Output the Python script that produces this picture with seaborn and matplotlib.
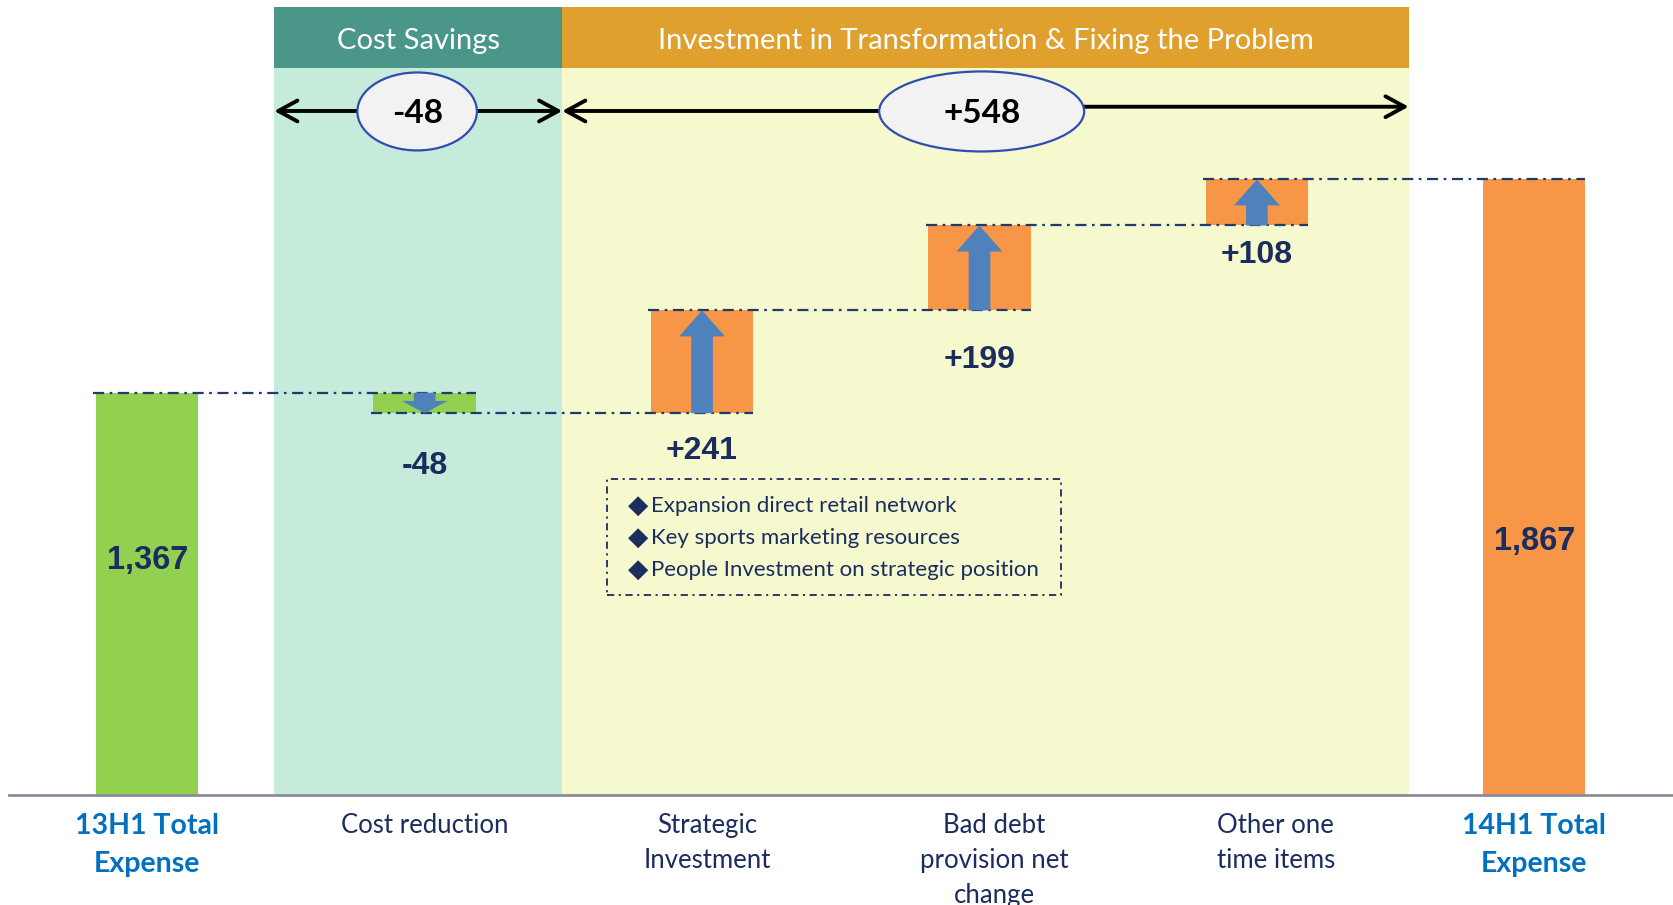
import matplotlib
matplotlib.use("Agg")
import matplotlib.pyplot as plt
from matplotlib.patches import Ellipse, Rectangle, FancyArrow
from matplotlib.transforms import ScaledTranslation
import numpy as np
import pandas as pd
import seaborn as sns

# ---- data -------------------------------------------------------------
categories = ["13H1 Total\nExpense", "Cost reduction", "Strategic\nInvestment",
              "Bad debt\nprovision net\nchange", "Other one\ntime items",
              "14H1 Total\nExpense"]
start_total = 1367
changes = [-48, 241, 199, 108]
group_names = ["Cost Savings", "Investment in Transformation & Fixing the Problem"]
group_members = [[0], [1, 2, 3]]          # indices into `changes`
notes = ["Expansion direct retail network",
         "Key sports marketing resources",
         "People Investment on strategic position"]

# ---- derived waterfall geometry ---------------------------------------
levels = start_total + np.cumsum(changes)
end_total = int(levels[-1])
prev = np.concatenate([[start_total], levels[:-1]])
heights = [start_total] + [abs(c) for c in changes] + [end_total]
bottoms = [0] + [int(min(p, l)) for p, l in zip(prev, levels)] + [0]
run_levels = [start_total] + [int(v) for v in levels]

GREEN, ORANGE, BLUE = "#92D050", "#F79646", "#4F81BD"
NAVY, LABEL_BLUE = "#1B2C5E", "#0070C0"
bar_colors = [GREEN] + [GREEN if c < 0 else ORANGE for c in changes] + [ORANGE]

sns.set_theme(style="white")
plt.rcParams["font.family"] = ["Lato", "DejaVu Sans"]

W, H = 1673, 905
fig = plt.figure(figsize=(W / 100, H / 100), dpi=100, facecolor="white")
ax = fig.add_axes([8.5 / W, 1 - 795 / H, 1 - 8.5 / W, 787.5 / H])
ax.set_facecolor("white")

bar_w = 0.369
df = pd.DataFrame({"item": categories, "height": heights})
sns.barplot(data=df, x="item", y="height", order=categories, width=bar_w,
            color=GREEN, edgecolor="none", linewidth=0, errorbar=None, ax=ax)
bars = list(ax.patches)
for bar, b, col in zip(bars, bottoms, bar_colors):
    bar.set_y(b)               # float the step bars on the running total
    bar.set_facecolor(col)
    bar.set_zorder(2)

ax.set_xlim(-0.5, 5.5)
ax.set_ylim(424, 2270)
ax.set_xlabel("")
ax.set_ylabel("")
ax.set_yticks([])
for s in ["left", "right", "top"]:
    ax.spines[s].set_visible(False)
ax.spines["bottom"].set_color("#8B8C99")
ax.spines["bottom"].set_linewidth(2)
ax.spines["bottom"].set_zorder(5)

xt = ax.get_xaxis_transform()

# ---- group bands with headers ------------------------------------------
spans = [(0.458, 1.496), (1.496, 4.547)]
head_colors = ["#4A9789", "#DFA02E"]
band_colors = ["#C6EBDA", "#F6F8CD"]
head_y0 = 0.9228
for (x0, x1), hc, bc, name in zip(spans, head_colors, band_colors, group_names):
    ax.axvspan(x0, x1, ymin=0, ymax=head_y0, color=bc, lw=0, zorder=0)
    ax.axvspan(x0, x1, ymin=head_y0, ymax=1, color=hc, lw=0, zorder=0)
    ax.text((x0 + x1) / 2, 0.957, name, transform=xt,
            ha="center", va="center", color="white", fontsize=21)

# ---- group total arrows with ellipses ---------------------------------
arrow_kw = dict(lw=2.8, color="black", shrinkA=0, shrinkB=0,
                mutation_scale=25)
ell_specs = [(0.973, 0.868, 0.431, 0.099), (3.008, 0.868, 0.739, 0.1016)]
for k, ((x0, x1), members, (ex, ey, ew, eh)) in enumerate(zip(spans, group_members, ell_specs)):
    total = sum(changes[i] for i in members)
    y_left = 0.8686
    y_right = 0.8686 if k == 0 else 0.874
    ax.annotate("", xy=(x0, y_left), xytext=(ex, y_left), xycoords=xt, textcoords=xt,
                arrowprops=dict(arrowstyle="->,head_length=0.55,head_width=0.3", **arrow_kw),
                zorder=6)
    ax.annotate("", xy=(x1, y_right), xytext=(ex, y_right), xycoords=xt, textcoords=xt,
                arrowprops=dict(arrowstyle="->,head_length=0.55,head_width=0.3", **arrow_kw),
                zorder=6)
    ax.add_patch(Ellipse((ex, ey), ew, eh, transform=xt, facecolor="#F2F2F2",
                         edgecolor="#2E4DAF", lw=1.6, zorder=7))
    ax.text(ex, ey - 0.002, f"{total:+d}", transform=xt, ha="center", va="center",
            fontsize=24, fontweight="bold", color="black", zorder=8)

# ---- dash-dot connectors between bars ---------------------------------
dashdot = (0, (5, 2.5, 1.2, 2.5))
for k, lvl in enumerate(run_levels):
    ax.plot([k - bar_w / 2 - 0.01, k + 1 + bar_w / 2], [lvl, lvl], color="#1F3A6E",
            lw=1.6, linestyle=dashdot, zorder=3)

# ---- direction arrows inside the step bars ----------------------------
for i, (c, p) in enumerate(zip(changes, prev), start=1):
    hl = min(61, 0.6 * abs(c))
    ax.add_patch(FancyArrow(i, p, 0, c, width=0.078, head_width=0.165,
                            head_length=hl, length_includes_head=True,
                            color=BLUE, lw=0, zorder=4))

# ---- value labels -----------------------------------------------------
font_num = ["Liberation Sans", "DejaVu Sans"]
step_offsets = [-38, -27.5, -35.5, -21]
for i, (c, b, off) in enumerate(zip(changes, bottoms[1:5], step_offsets), start=1):
    ax.annotate(f"{c:+d}", xy=(i, b), xytext=(0, off), textcoords="offset points",
                ha="center", va="center", fontsize=23, fontweight="bold",
                color=NAVY, family=font_num, zorder=8)
for i, v, yf in [(0, start_total, 0.298), (5, end_total, 0.322)]:
    ax.text(i, yf, f"{v:,}", transform=xt, ha="center", va="center", fontsize=23.5,
            fontweight="bold", color=NAVY, family=font_num, zorder=8)

# ---- notes box --------------------------------------------------------
box_x0, box_x1, box_y0, box_y1 = 1.658, 3.293, 0.254, 0.401
ax.add_patch(Rectangle((box_x0, box_y0), box_x1 - box_x0, box_y1 - box_y0,
                       transform=xt, facecolor="none", edgecolor=NAVY, lw=1.3,
                       linestyle=(0, (4, 2.5, 1.2, 2.5)), zorder=6))
for note, yf in zip(notes, [0.3672, 0.3266, 0.2859]):
    ax.text(1.769, yf, "\u25C6", transform=xt, ha="center", va="center",
            fontsize=19, color=NAVY, family="DejaVu Sans", zorder=8)
    ax.text(1.816, yf, note, transform=xt, ha="left", va="center",
            fontsize=16, color=NAVY, zorder=8)

# ---- category labels --------------------------------------------------
ax.set_xticks(range(len(categories)))
ax.set_xticklabels(categories)
ax.tick_params(axis="x", length=0, pad=13)
label_shift_px = [0, 0, 5, 15, 19, 0]
for k, lab in enumerate(ax.get_xticklabels()):
    lab.set_transform(lab.get_transform() +
                      ScaledTranslation(label_shift_px[k] / 100, 0, fig.dpi_scale_trans))
    if k in (0, len(categories) - 1):
        lab.set_fontsize(20.5)
        lab.set_fontweight("bold")
        lab.set_color(LABEL_BLUE)
        lab.set_linespacing(1.55)
    else:
        lab.set_fontsize(18.5)
        lab.set_color(NAVY)
        lab.set_linespacing(1.5)

fig.savefig("out.png", dpi=100, facecolor="white")
